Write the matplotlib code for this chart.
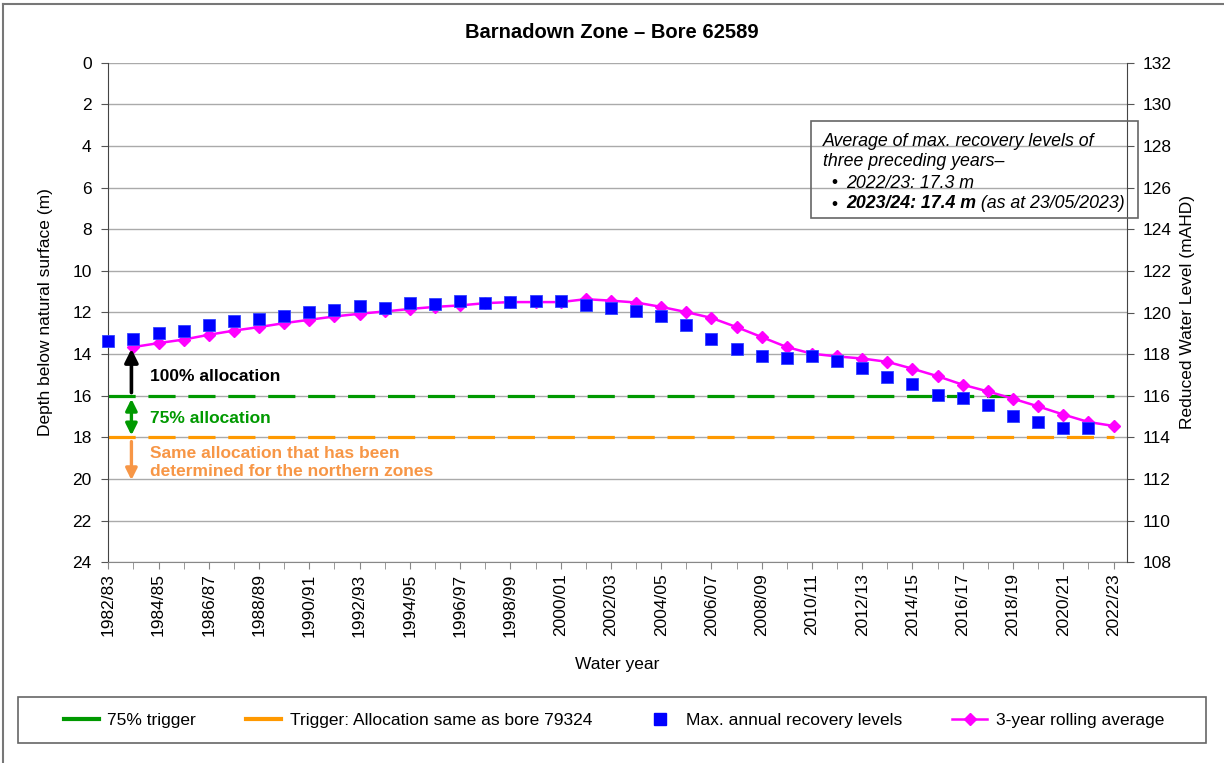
import numpy as np
import matplotlib
matplotlib.use('Agg')
import matplotlib.pyplot as plt
from matplotlib.lines import Line2D
from matplotlib.patches import Rectangle

plt.rcParams['font.family'] = ['Liberation Sans', 'DejaVu Sans']
plt.rcParams['font.size'] = 12.5

# water years 1982/83 .. 2022/23
years = [f'{y}/{(y + 1) % 100:02d}' for y in range(1982, 2023)]

# max. annual recovery levels, depth (m), 1982/83 .. 2021/22
max_recovery = [13.39, 13.25, 13.0, 12.87, 12.58, 12.39, 12.3, 12.19, 11.98, 11.87,
                11.71, 11.78, 11.55, 11.59, 11.43, 11.55, 11.49, 11.46, 11.43, 11.62,
                11.78, 11.94, 12.19, 12.59, 13.26, 13.73, 14.11, 14.18, 14.11, 14.34,
                14.69, 15.1, 15.44, 15.95, 16.1, 16.45, 16.99, 17.25, 17.57, 17.55]

# 3-year rolling average, depth (m), 1983/84 .. 2022/23
rolling_avg = [13.66, 13.47, 13.3, 13.07, 12.87, 12.7, 12.51, 12.35, 12.19, 12.06,
               11.95, 11.83, 11.73, 11.66, 11.55, 11.5, 11.5, 11.5, 11.36, 11.43,
               11.52, 11.73, 11.98, 12.26, 12.7, 13.18, 13.66, 13.98, 14.11, 14.21,
               14.37, 14.7, 15.06, 15.47, 15.79, 16.14, 16.51, 16.9, 17.26, 17.45]

trigger_75 = 16
trigger_79324 = 18
surface_rl = 132  # reduced level of natural surface (mAHD)

idx = np.arange(len(years))
green = '#009900'
orange = '#FF9900'
text_orange = '#F79646'

fig = plt.figure(figsize=(12.24, 7.63), dpi=100)
ax = fig.add_axes([108.3 / 1224, 1 - 562.3 / 763, (1127 - 108.3) / 1224, 499.6 / 763])

ax.set_ylim(24, 0)
ax.set_xlim(0, (1127 - 108.3) / 25.13)
ax.set_yticks(np.arange(0, 25, 2))
ax.grid(axis='y', color='#AAAAAA', lw=1)
ax.set_axisbelow(True)

# trigger lines
ax.hlines(trigger_75, idx[0], idx[-1], color=green, lw=2.3, linestyles=(0, (8.5, 4)), zorder=2)
ax.hlines(trigger_79324, idx[0], idx[-1], color=orange, lw=2.3, linestyles=(0, (8.5, 4)), zorder=2)

# series
ax.plot(idx[1:], rolling_avg, color='#FF00FF', lw=1.8, marker='D', ms=6.4, zorder=3)
ax.plot(idx[:len(max_recovery)], max_recovery, ls='none', marker='s', ms=8,
        color='#0000FF', mec='#3344FF', mew=0.6, zorder=4, clip_on=False)

# allocation arrows and labels
ax_x = 0.92
ax.annotate('', xy=(ax_x, 13.75), xytext=(ax_x, 15.85),
            arrowprops=dict(arrowstyle='-|>', color='black', lw=2.6, mutation_scale=20,
                            shrinkA=0, shrinkB=0))
ax.annotate('', xy=(ax_x, 16.15), xytext=(ax_x, 17.9),
            arrowprops=dict(arrowstyle='<|-|>', color=green, lw=2.4, mutation_scale=17,
                            shrinkA=0, shrinkB=0))
ax.annotate('', xy=(ax_x, 20.05), xytext=(ax_x, 18.2),
            arrowprops=dict(arrowstyle='-|>', color=text_orange, lw=2.4, mutation_scale=17,
                            shrinkA=0, shrinkB=0))
ax.text(1.67, 15.07, '100% allocation', fontweight='bold', va='center', ha='left')
ax.text(1.67, 17.1, '75% allocation', fontweight='bold', color=green, va='center', ha='left')
ax.text(1.67, 19.22, 'Same allocation that has been\ndetermined for the northern zones',
        fontweight='bold', color=text_orange, va='center', ha='left', linespacing=1.22)

# axes styling
ax.set_xticks(idx[::2])
ax.set_xticklabels(years[::2], rotation=90)
ax.set_xticks(idx, minor=True)
ax.tick_params(axis='x', which='both', direction='out', length=5, color='#888888', pad=3)
ax.tick_params(axis='y', direction='out', length=5, color='#555555', pad=7)
for s in ['top', 'right']:
    ax.spines[s].set_visible(False)
ax.spines['left'].set_color('#444444')
ax.spines['bottom'].set_color('#888888')
ax.set_xlabel('Water year', labelpad=15)
ax.set_ylabel('Depth below natural surface (m)', labelpad=14)

ax2 = ax.twinx()
ax2.set_ylim(surface_rl - 24, surface_rl)
ax2.set_yticks(np.arange(surface_rl - 24, surface_rl + 1, 2))
ax2.tick_params(axis='y', direction='out', length=5, color='#555555', pad=6)
for s in ['top', 'left', 'bottom']:
    ax2.spines[s].set_visible(False)
ax2.spines['right'].set_color('#444444')
ax2.set_ylabel('Reduced Water Level (mAHD)', labelpad=6)

fig.text(612 / 1224, 1 - 33 / 763, 'Barnadown Zone – Bore 62589', ha='center', va='center',
         fontsize=14.5, fontweight='bold')

# note box
fig.patches.append(Rectangle((811 / 1224, 1 - 218 / 763), 327 / 1224, 97 / 763,
                             transform=fig.transFigure, fill=False, ec='#666666', lw=1.2))
fig.text(823 / 1224, 1 - 141 / 763, 'Average of max. recovery levels of', style='italic',
         va='center', fontsize=12.8)
fig.text(823 / 1224, 1 - 162 / 763, 'three preceding years–', style='italic', va='center',
         fontsize=12.8)
fig.text(831 / 1224, 1 - 183 / 763, '•', va='center')
fig.text(846 / 1224, 1 - 183 / 763, '2022/23: 17.3 m', style='italic', va='center', fontsize=12.8)
fig.text(831 / 1224, 1 - 204 / 763, '•', va='center')
t_bold = fig.text(846 / 1224, 1 - 204 / 763, '2023/24: 17.4 m', style='italic',
                  fontweight='bold', va='center', fontsize=12.8)
ax.annotate(' (as at 23/05/2023)', xy=(1, 0.5), xycoords=t_bold, va='center', ha='left',
            style='italic', fontsize=12.8, annotation_clip=False)

# legend with its own frame
fig.patches.append(Rectangle((18 / 1224, 1 - 743 / 763), 1188 / 1224, 46 / 763,
                             transform=fig.transFigure, fill=False, ec='#666666', lw=1.2))
handles = [
    Line2D([], [], color=green, lw=3),
    Line2D([], [], color=orange, lw=3),
    Line2D([], [], ls='none', marker='s', ms=8, color='#0000FF'),
    Line2D([], [], color='#FF00FF', lw=1.8, marker='D', ms=6.4),
]
labels = ['75% trigger', 'Trigger: Allocation same as bore 79324',
          'Max. annual recovery levels', '3-year rolling average']
fig.legend(handles, labels, ncol=4, loc='center', bbox_to_anchor=(614 / 1224, 1 - 720 / 763),
           frameon=False, handlelength=2.0, handletextpad=0.5, columnspacing=2.9)

# outer chart border (left and top edges visible)
fig.add_artist(Line2D([3 / 1224, 3 / 1224], [0, 1 - 4 / 763], transform=fig.transFigure,
                      color='#777777', lw=1.5))
fig.add_artist(Line2D([3 / 1224, 1], [1 - 4 / 763, 1 - 4 / 763], transform=fig.transFigure,
                      color='#777777', lw=1.5))

fig.savefig('out.png', dpi=100)
